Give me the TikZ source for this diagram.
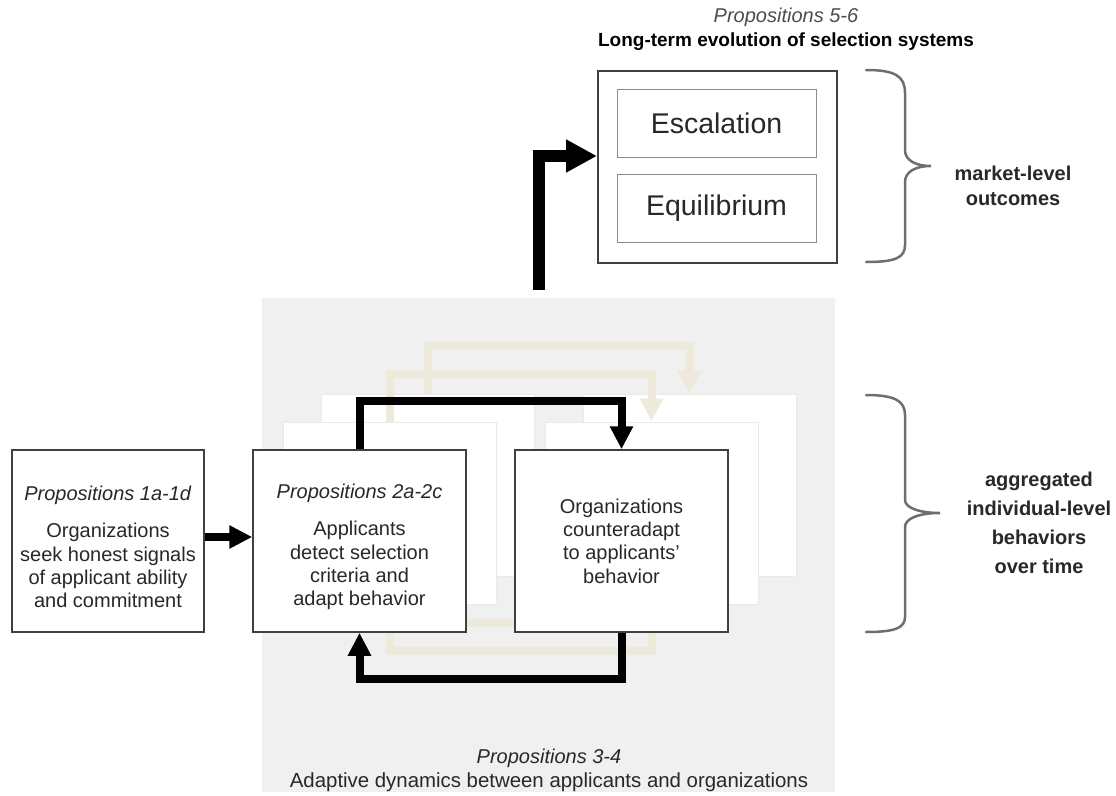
\documentclass[tikz,border=0pt]{standalone}
\usepackage{fontspec}
\setmainfont{Liberation Sans}
\usetikzlibrary{arrows.meta}
\definecolor{panelgray}{RGB}{240,240,240}
\definecolor{ghostline}{RGB}{237,234,222}
\definecolor{ghostarr}{RGB}{237,234,220}
\definecolor{boxline}{RGB}{64,64,64}
\definecolor{textc}{RGB}{40,40,40}
\definecolor{bracec}{RGB}{110,110,110}
\definecolor{innerline}{RGB}{140,140,140}
\begin{document}
\begin{tikzpicture}[x=1pt,y=-1pt,
  box/.style={draw=boxline, line width=1.5pt, fill=white, minimum width=213pt, minimum height=182pt,
    align=center, inner sep=2pt, text=textc, font=\fontsize{20}{23.3}\selectfont},
  boxtext/.style={align=center, inner sep=0pt, text=textc, font=\fontsize{20}{23.3}\selectfont},
  ghost/.style={draw=ghostline, line width=1pt, fill=white, minimum width=213pt, minimum height=182pt},
  larrow/.style={line width=8pt, -{Triangle[length=23pt,width=22pt]}},
  garrow/.style={draw=ghostarr, line width=8pt, -{Triangle[length=23pt,width=22pt]}},
  bigarrow/.style={line width=12pt, -{Triangle[length=31pt,width=31pt]}},
  outerbox/.style={draw=boxline, line width=2pt, fill=white, minimum width=239pt, minimum height=192pt},
  inbox/.style={draw=innerline, line width=1pt, fill=white, minimum width=199pt, minimum height=68pt,
    text=textc, font=\fontsize{28.5}{32}\selectfont},
  brace/.style={draw=bracec, line width=2.5pt, line cap=round},
  lbl/.style={align=center, text=textc, font=\fontsize{20}{24}\selectfont}
]
\useasboundingbox (0,0) rectangle (1116,795);
\fill[panelgray] (262,298) rectangle (835,792);

% ghost layers (earlier rounds of the adaptive loop)
\foreach \dx/\dy/\k in {68/-56/2, 30/-28/1} {
  \node[ghost] (g\k a) at (359.5+\dx, 541+\dy) {};
  \node[ghost] (g\k b) at (621.5+\dx, 541+\dy) {};
  \draw[garrow] (g\k a.north) -- ++(0,-48) -| (g\k b.north);
  \draw[garrow] (g\k b.south) -- ++(0,46) -| (g\k a.south);
}

% main boxes
\node[box, minimum width=192pt,
  label={[boxtext, yshift=-6pt]center:{\textit{Propositions 1a-1d}\\[13.7pt]Organizations\\seek honest signals\\of applicant ability\\and commitment}}]
  (b1) at (108,541) {};
\node[box,
  label={[boxtext, yshift=-6pt]center:{\textit{Propositions 2a-2c}\\[13.7pt]Applicants\\detect selection\\criteria and\\adapt behavior}}]
  (b2) at (359.5,541) {};
\node[box] (b3) at (621.5,541)
  {Organizations\\counteradapt\\to applicants'\\behavior};

\draw[larrow] ([yshift=4pt]b1.east) -- ([yshift=4pt]b2.west);
\draw[larrow] (b2.north) -- ++(0,-48) -| (b3.north);
\draw[larrow] (b3.south) -- ++(0,46) -| (b2.south);

% long-term box
\node[outerbox] (out) at (717.5,167) {};
\node[inbox] (esc) at (716.5,123) {Escalation};
\node[inbox] (equ) at (716.5,208) {Equilibrium};
\coordinate (bigstart) at (539,290);
\draw[bigarrow] (bigstart) |- ([yshift=11pt]out.west);

% titles
\node[lbl, text=black!70] (t1) at (786,17) {\textit{Propositions 5-6}};
\node[lbl, text=black, font=\fontsize{19}{22}\selectfont\bfseries] (t2) at (786,42) {Long-term evolution of selection systems};
\node[lbl] (p34) at (549,758) {\textit{Propositions 3-4}};
\node[lbl, font=\fontsize{20.4}{24}\selectfont] (adapt) at (549,782) {Adaptive dynamics between applicants and organizations};

% braces
\draw[brace] (866,70) .. controls (895,70) and (905,76) .. (905,93) -- (905,150)
  .. controls (905,160) and (915,166) .. (931,166) .. controls (915,166) and (905,172) .. (905,182)
  -- (905,245) .. controls (905,258) and (895,262) .. (866,262);
\draw[brace] (866,395) .. controls (895,395) and (905,401) .. (905,415) -- (905,500)
  .. controls (905,508) and (920,513) .. (940,513) .. controls (920,513) and (905,518) .. (905,527)
  -- (905,617) .. controls (905,628) and (895,632) .. (866,632);

\node[lbl, font=\fontsize{20}{25}\selectfont\bfseries] (mkt) at (1013,186) {market-level\\outcomes};
\node[lbl, font=\fontsize{20}{29}\selectfont\bfseries] (agg) at (1039,523) {aggregated\\individual-level\\behaviors\\over time};
\end{tikzpicture}
\end{document}
